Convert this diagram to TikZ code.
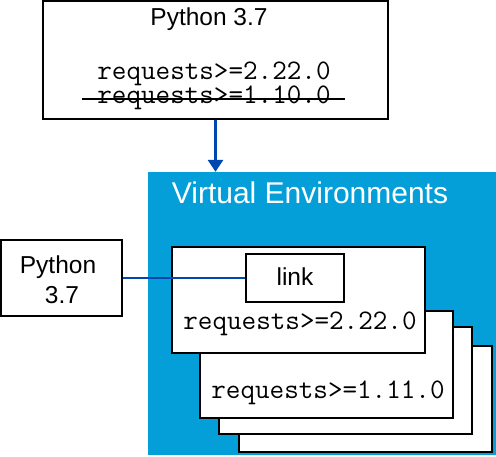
\documentclass[tikz,border=0pt]{standalone}
\usepackage{fontspec}
\setmainfont{Liberation Sans}
\usetikzlibrary{arrows.meta}
\definecolor{venvblue}{RGB}{4,159,217}
\definecolor{linkblue}{RGB}{0,72,176}
\tikzset{
  box/.style={draw=black, line width=2pt, fill=white, rectangle, inner sep=0pt},
  sanstext/.style={font=\fontsize{24.5}{30}\selectfont, inner sep=0pt, anchor=base},
  monotext/.style={font=\ttfamily\fontsize{28.3}{32}\selectfont, inner sep=0pt, anchor=base},
  conn/.style={draw=linkblue, line width=2pt},
}
\begin{document}
\begin{tikzpicture}[x=1pt,y=-1pt]
\useasboundingbox (0,0) rectangle (496,456);
% top box
\node[box, minimum width=345pt, minimum height=118pt] (top) at (215.5,60) {};
\node[sanstext] (toptitle) at (209,25) {Python 3.7};
\node[monotext] (topreq1) at (214,79) {requests>=2.22.0};
\node[monotext] (topreq2) at (214,103) {requests>=1.10.0};
\coordinate (strikeL) at (82,99);
\coordinate (strikeR) at (345,99);
\draw[line width=2pt] (strikeL) -- (strikeR);
% venv background
\node[fill=venvblue, draw=none, minimum width=348pt, minimum height=283pt, inner sep=0pt] (venv) at (322,313.5) {};
\node[sanstext, text=white, font=\fontsize{30}{36}\selectfont] (venvtitle) at (310,203) {Virtual Environments};
% arrow
\draw[conn, line width=3.5pt, -{Triangle[length=12pt,width=15pt]}] (top.south) -- (top.south |- venv.north);
% stacked env boxes
\node[box, minimum width=253pt, minimum height=106pt] (env4) at (365.5,399) {};
\node[box, minimum width=253pt, minimum height=107pt] (env3) at (345.5,380.5) {};
\node[box, minimum width=253pt, minimum height=107pt] (env2) at (326.5,364.5) {};
\node[monotext] (env2req) at (328,398) {requests>=1.11.0};
\node[box, minimum width=253pt, minimum height=106pt] (env1) at (298.5,300) {};
\node[monotext] (env1req) at (300,329) {requests>=2.22.0};
% python box
\node[box, minimum width=121pt, minimum height=76pt] (py) at (61.5,278) {};
\node[sanstext] (pyl1) at (58,273) {Python};
\node[sanstext] (pyl2) at (62,303) {3.7};
% link
\node[box, minimum width=98pt, minimum height=48pt] (link) at (295,278) {};
\node[sanstext] (linktext) at (295,285) {link};
\draw[conn] (py.east) -- (link.west);
\end{tikzpicture}
\end{document}
